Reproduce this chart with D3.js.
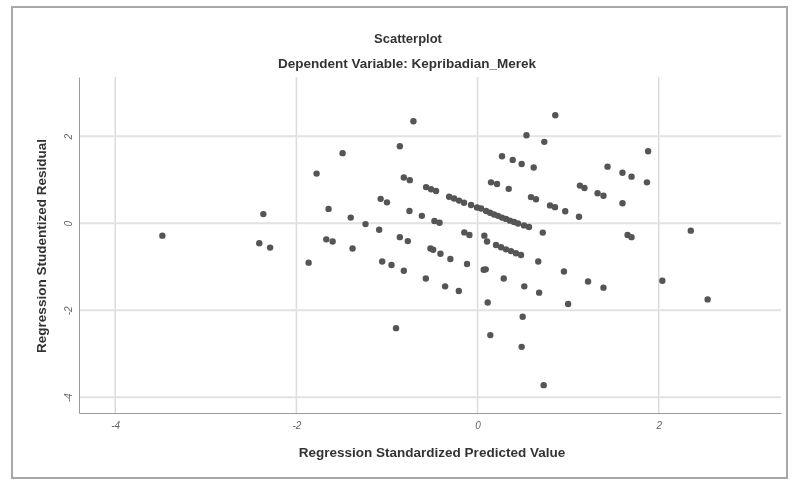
<html>
  <head>
    <meta charset="utf-8">
    <script src="https://cdn.jsdelivr.net/npm/d3@7"></script>
    <style>
      body { margin: 0; background: #fff; }
      text { font-family: "Liberation Sans", Arial, sans-serif; }
    </style>
  </head>
  <body>
    <div id="chart"></div>
    <script>
      // Residual scatter (x = standardized predicted, y = studentized residual)
      const predicted = [
        -3.48, -2.365, -2.41, -2.29, -1.865, -1.777, -1.645, -1.67, -1.60, -1.49,
        -1.40, -1.38, -1.237, -1.086, -1.07, -1.0, -1.053, -0.95, -0.90, -0.858,
        -0.814, -0.748, -0.708, -0.752, -0.858, -0.77, -0.814, -0.615, -0.571, -0.568,
        -0.513, -0.458, -0.52, -0.49, -0.476, -0.42, -0.41, -0.358, -0.30, -0.207,
        -0.146, -0.09, -0.116, 0.075,
        -0.314, -0.259, -0.204, -0.149, -0.072, -0.006, 0.039, 0.094, 0.138, 0.182,
        0.226, 0.270, 0.314, 0.358, 0.403, 0.447, 0.513, 0.568,
        0.149, 0.215, 0.344, 0.27, 0.388, 0.487, 0.62, 0.54, 0.737, 0.858,
        0.59, 0.645, 0.80, 0.855, 0.968, 1.12, 1.13, 1.18, 1.325, 1.39,
        1.435, 1.60, 1.70, 1.883, 1.87, 1.60, 0.72,
        0.105, 0.204, 0.259, 0.314, 0.369, 0.424, 0.48,
        0.068, 0.09, 0.289, 0.516, 0.68, 0.67, 0.954, 1.22, 1.39, 1.0,
        0.112, 0.498, 0.141, 0.487, 0.73, 1.656, 1.70, 2.354, 2.04, 2.54
      ];
      const residual = [
        -0.285, 0.21, -0.46, -0.56, -0.905, 1.14, 0.33, -0.37, -0.42, 1.61,
        0.13, -0.58, -0.02, -0.15, 0.56, 0.48, -0.88, -0.96, -2.41, 1.77,
        1.05, 0.99, 2.345, 0.28, -0.32, -0.41, -1.09, 0.17, -1.27, 0.83,
        0.78, 0.74, -0.58, -0.61, 0.05, 0.01, -0.70, -1.45, -0.82, -1.556,
        -0.21, -0.27, -0.935, -0.285,
        0.61, 0.57, 0.52, 0.47, 0.42, 0.36, 0.34, 0.28, 0.24, 0.20,
        0.17, 0.13, 0.10, 0.06, 0.03, -0.005, -0.05, -0.085,
        0.94, 0.90, 0.79, 1.54, 1.455, 1.36, 1.28, 2.02, 1.87, 2.48,
        0.60, 0.55, 0.41, 0.37, 0.276, 0.15, 0.865, 0.81, 0.69, 0.63,
        1.30, 1.16, 1.07, 1.655, 0.94, 0.46, -0.215,
        -0.42, -0.50, -0.55, -0.60, -0.64, -0.69, -0.73,
        -1.07, -1.06, -1.27, -1.45, -1.595, -0.88, -1.11, -1.34, -1.48, -1.855,
        -1.82, -2.15, -2.57, -2.84, -3.72, -0.27, -0.32, -0.17, -1.32, -1.75
      ];
      const xTicks = [-4, -2, 0, 2];
      const yTicks = [-4, -2, 0, 2];

      const title = "Scatterplot";
      const subtitle = "Dependent Variable: Kepribadian_Merek";
      const xTitle = "Regression Standardized Predicted Value";
      const yTitle = "Regression Studentized Residual";

      const width = 792, height = 480;
      const plot = {left: 79, right: 781, top: 77, bottom: 413};

      let svg = d3.select("#chart")
        .append("svg")
        .attr("width", width)
        .attr("height", height)
        .style("filter", "blur(0.45px)");

      // outer frame of the screenshot
      svg.append("rect")
        .attr("x", 12).attr("y", 7)
        .attr("width", 775).attr("height", 471)
        .attr("fill", "white")
        .attr("stroke", "#a8a8a8")
        .attr("stroke-width", 2);

      const x = d3.scaleLinear().domain([-4.4, 3.35]).range([plot.left, plot.right]);
      const y = d3.scaleLinear().domain([-4.36, 3.36]).range([plot.bottom, plot.top]);
      const fmt = d => d < 0 ? "-" + Math.abs(d) : String(d);

      // gridlines
      svg.append("g")
        .selectAll("line")
        .data(xTicks)
        .join("line")
          .attr("x1", d => x(d)).attr("x2", d => x(d))
          .attr("y1", plot.top).attr("y2", plot.bottom)
          .attr("stroke", "#dcdcdc")
          .attr("stroke-width", 1.5);

      svg.append("g")
        .selectAll("line")
        .data(yTicks)
        .join("line")
          .attr("x1", plot.left).attr("x2", plot.right)
          .attr("y1", d => y(d)).attr("y2", d => y(d))
          .attr("stroke", "#e2e2e2")
          .attr("stroke-width", 2);

      // axes
      let xAxis = svg.append("g")
        .attr("transform", `translate(0,${plot.bottom})`)
        .call(d3.axisBottom(x).tickValues(xTicks).tickSize(0).tickPadding(9).tickFormat(fmt));
      xAxis.select(".domain").attr("stroke", "#9a9a9a");
      xAxis.selectAll("text").attr("fill", "#666").style("font-size", "10px").style("font-style", "italic");

      let yAxis = svg.append("g")
        .attr("transform", `translate(${plot.left},0)`)
        .call(d3.axisLeft(y).tickValues(yTicks).tickSize(0).tickFormat(fmt));
      yAxis.select(".domain").attr("stroke", "#9a9a9a");
      yAxis.selectAll("text")
        .attr("x", null).attr("dy", null)
        .attr("text-anchor", "middle")
        .attr("transform", "translate(-6,0) rotate(-90)")
        .attr("dy", "-0.1em")
        .attr("fill", "#666")
        .style("font-size", "10px")
        .style("font-style", "italic");

      // points
      svg.append("g")
        .selectAll("circle")
        .data(predicted.map((p, i) => [p, residual[i]]))
        .join("circle")
          .attr("cx", d => x(d[0]))
          .attr("cy", d => y(d[1]))
          .attr("r", 3.2)
          .attr("fill", "#555");

      // titles
      svg.append("text")
        .attr("x", 408).attr("y", 43)
        .attr("text-anchor", "middle")
        .attr("font-weight", "bold")
        .attr("font-size", 13)
        .attr("fill", "#333")
        .text(title);

      svg.append("text")
        .attr("x", 407).attr("y", 68)
        .attr("text-anchor", "middle")
        .attr("font-weight", "bold")
        .attr("font-size", 13.5)
        .attr("fill", "#333")
        .text(subtitle);

      svg.append("text")
        .attr("x", 432).attr("y", 457)
        .attr("text-anchor", "middle")
        .attr("font-weight", "bold")
        .attr("font-size", 13.5)
        .attr("fill", "#333")
        .text(xTitle);

      svg.append("text")
        .attr("transform", "translate(46,246) rotate(-90)")
        .attr("text-anchor", "middle")
        .attr("font-weight", "bold")
        .attr("font-size", 13.5)
        .attr("fill", "#333")
        .text(yTitle);
    </script>
  </body>
</html>
